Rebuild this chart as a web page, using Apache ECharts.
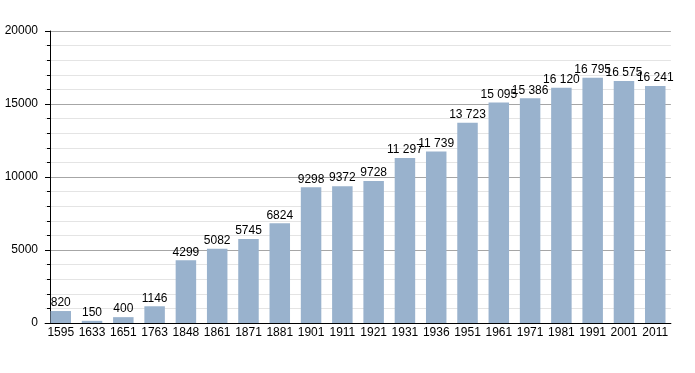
<!DOCTYPE html>
<html><head><meta charset="utf-8">
<script src="https://cdn.jsdelivr.net/npm/echarts@6/dist/echarts.min.js"></script>
<style>html,body{margin:0;padding:0;background:#fff}#c{width:695px;height:373px}</style>
</head><body><div id="c"></div>
<script>
const categories = ['1595','1633','1651','1763','1848','1861','1871','1881','1901','1911','1921','1931','1936','1951','1961','1971','1981','1991','2001','2011'];
const population = [820,150,400,1146,4299,5082,5745,6824,9298,9372,9728,11297,11739,13723,15095,15386,16120,16795,16575,16241];
const yTicks = [0,5000,10000,15000,20000];

function fmt(v){ return v >= 10000 ? String(v).replace(/\B(?=(\d{3})+(?!\d))/g,' ') : String(v); }

const FONT = '"Liberation Sans Narrow", "Liberation Sans", Arial, sans-serif';
const chart = echarts.init(document.getElementById('c'), null, {renderer:'canvas'});
chart.setOption({
  animation:false,
  textStyle:{fontFamily:FONT},
  grid:{left:45.1,right:24.1,top:31,bottom:50,containLabel:false},
  xAxis:{
    type:'category', data:categories,
    axisLine:{lineStyle:{color:'#000',width:1}},
    axisTick:{show:false},
    axisLabel:{color:'#000',fontSize:12,fontFamily:FONT,margin:4,interval:0}
  },
  yAxis:{
    type:'value', min:yTicks[0], max:yTicks[yTicks.length-1], interval:5000,
    offset:-4.9,
    axisLine:{show:true,lineStyle:{color:'#000',width:1}},
    axisTick:{show:true,length:5,lineStyle:{color:'#000'}},
    minorTick:{show:true,splitNumber:5,length:3,lineStyle:{color:'#000'}},
    axisLabel:{color:'#000',fontSize:12,fontFamily:FONT,margin:12,formatter:v=>String(v)},
    splitLine:{show:true,lineStyle:{color:'#a6a6a6',width:1}},
    minorSplitLine:{show:true,lineStyle:{color:'#e4e4e4',width:1}}
  },
  series:[{
    type:'bar', data:population, barWidth:'65.5%',
    itemStyle:{color:'#99b2cd'},
    label:{show:true,position:'top',color:'#000',fontSize:12,fontFamily:FONT,distance:2,formatter:p=>fmt(p.value)}
  }]
});
</script></body></html>
